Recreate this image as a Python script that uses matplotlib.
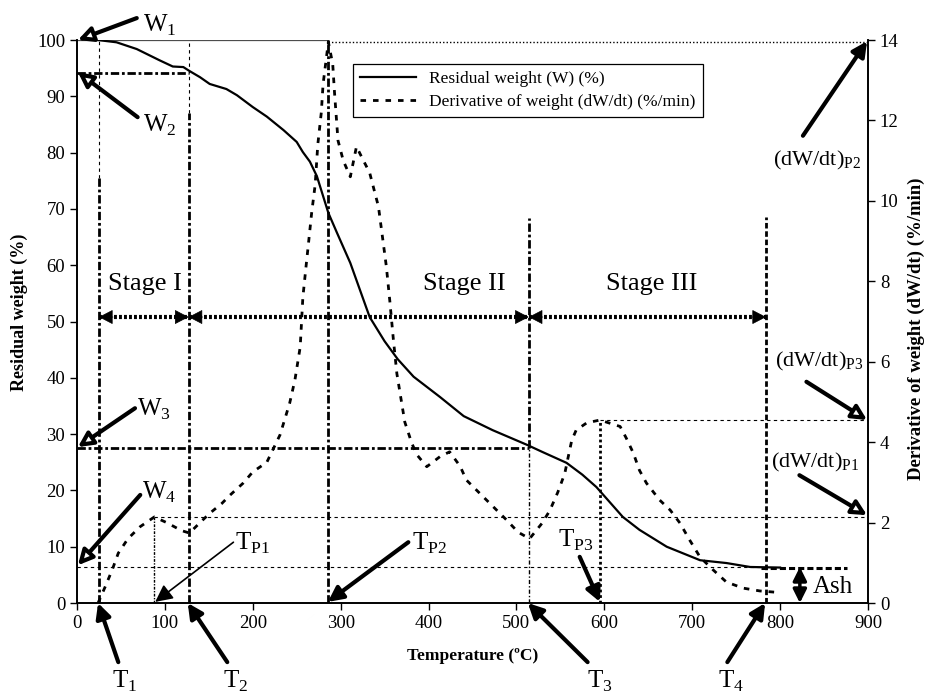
import matplotlib
matplotlib.use('Agg')
import matplotlib.pyplot as plt

plt.rcParams['font.family'] = 'Liberation Serif'
plt.rcParams['mathtext.fontset'] = 'custom'
plt.rcParams['mathtext.rm'] = 'Liberation Serif'

# Residual weight curve (temperature in C, weight in %)
temp_w = [24, 45, 68, 94, 109, 121, 128, 140, 151, 170, 182, 200, 216, 235, 250, 257,
          265, 273, 286, 296, 311, 322, 333, 350, 365, 383, 413, 440, 473, 512, 530,
          557, 575, 591, 621, 640, 671, 709, 739, 766, 800]
weight = [100, 99.6, 98.4, 96.4, 95.3, 95.2, 94.5, 93.4, 92.2, 91.3, 90.2, 88.1, 86.4,
          84, 81.9, 80.1, 78.4, 75.8, 69.3, 65.7, 60.4, 55.6, 50.8, 46.5, 43.3, 40.2,
          36.6, 33.2, 30.7, 28.1, 26.8, 24.9, 22.8, 20.6, 15.3, 13, 10, 7.6, 7.1, 6.4, 6.3]

# Derivative of weight curve (%/min)
temp_d = [24, 32, 40, 47, 58, 72, 88, 102, 119, 128, 140, 151, 165, 174, 189, 200, 216,
          231, 242, 248, 254, 257, 261, 263, 267, 271, 274, 278, 280, 284, 286, 291, 293,
          297, 303, 311, 318, 326, 333, 343, 347, 352, 356, 360, 364, 367, 373, 381, 387,
          398, 413, 424, 436, 443, 466, 489, 502, 515, 529, 538, 547, 555, 559, 563, 568,
          580, 595, 618, 625, 633, 640, 648, 663, 675, 686, 697, 709, 724, 739, 758, 777, 794]
deriv = [0, 0.4, 0.82, 1.24, 1.6, 1.9, 2.14, 2.0, 1.8, 1.74, 2.0, 2.23, 2.48, 2.68, 2.98,
         3.26, 3.5, 4.18, 4.97, 5.55, 6.37, 7.6, 8.45, 8.86, 9.7, 10.4, 11.4, 12.2, 12.9,
         13.6, 13.95, 13.4, 12.7, 11.5, 11.0, 10.6, 11.35, 11.0, 10.7, 9.86, 9.2, 8.37,
         7.5, 6.55, 5.7, 5.3, 4.5, 3.97, 3.68, 3.39, 3.64, 3.76, 3.4, 3.06, 2.56, 2.06,
         1.76, 1.6, 1.98, 2.3, 2.75, 3.22, 3.64, 4.05, 4.3, 4.48, 4.55, 4.39, 4.1, 3.73,
         3.3, 2.98, 2.56, 2.31, 1.99, 1.57, 1.14, 0.82, 0.52, 0.37, 0.3, 0.27]

# characteristic points
T1, T2, T3, T4 = 25, 127, 514, 784
TP1, TP2, TP3 = 88, 286, 595
W1, W2, W3, W4 = 100, 94.1, 27.5, 6.4
DP1, DP2, DP3 = 2.14, 13.95, 4.55
stage_y = 50.8

thick_dd = (0, (3, 1, 1, 1))
thin_dash = (0, (3, 3))

fig = plt.figure(figsize=(9.32, 6.94), dpi=100)
ax = fig.add_axes([0.0826, 0.1311, 0.8487, 0.8112])
ax2 = ax.twinx()

ax.set_xlim(0, 900)
ax.set_ylim(0, 100)
ax2.set_ylim(0, 14)
ax.set_xticks(range(0, 901, 100))
ax.set_yticks(range(0, 101, 10))
ax2.set_yticks(range(0, 15, 2))
for a in (ax, ax2):
    a.tick_params(direction='out', length=5, labelsize=13.5, width=1)
    a.spines['top'].set_visible(False)
    for s in a.spines.values():
        s.set_linewidth(1.2)

ax.set_xlabel('Temperature (ºC)', fontsize=12.5, fontweight='bold')
ax.set_ylabel('Residual weight (%)', fontsize=13, fontweight='bold')
ax2.set_ylabel('Derivative of weight (dW/dt) (%/min)', fontsize=13.5, fontweight='bold')
ax.xaxis.set_label_coords(0.5, -0.08)
ax.yaxis.set_label_coords(-0.062, 0.517)
ax2.yaxis.set_label_coords(1.05, 0.488)

# reference lines
ax.plot([0, TP2], [W1, W1], color='0.3', lw=0.9)
ax2.plot([TP2, 900], [DP2, DP2], color='k', lw=1, ls=(0, (1, 1.5)))
ax.plot([T1, T1], [75.5, 100], color='k', lw=0.8, ls=thin_dash)
ax.plot([T1, T1], [0, 75.5], color='k', lw=2, ls=thick_dd)
ax.plot([T2, T2], [87, 100], color='k', lw=0.8, ls=thin_dash)
ax.plot([T2, T2], [0, 87], color='k', lw=2, ls=thick_dd)
ax2.plot([TP1, TP1], [0, DP1], color='k', lw=1, ls=(0, (2, 1, 1, 1)))
ax.plot([TP2, TP2], [0, 100], color='k', lw=2, ls=thick_dd)
ax.plot([T3, T3], [W3, 68.4], color='k', lw=2, ls=thick_dd)
ax.plot([T3, T3], [0, W3], color='k', lw=1, ls=(0, (3, 1.5, 1, 1.5)))
ax2.plot([TP3, TP3], [0, DP3], color='k', lw=2, ls=(0, (1, 1)))
ax.plot([T4, T4], [0, 68.6], color='k', lw=2, ls=(0, (2, 1)))
ax.plot([0, T2], [W2, W2], color='k', lw=2, ls=thick_dd)
ax.plot([0, T3], [W3, W3], color='k', lw=2, ls=thick_dd)
ax.plot([0, T4], [W4, W4], color='k', lw=0.8, ls=thin_dash)
ax.plot([778, 876], [6.2, 6.2], color='k', lw=2.2, ls=(0, (2, 1)))
ax2.plot([TP1, 900], [DP1, DP1], color='k', lw=0.8, ls=thin_dash)
ax2.plot([TP3, 900], [DP3, DP3], color='k', lw=0.8, ls=thin_dash)

# data curves
l1, = ax.plot(temp_w, weight, color='k', lw=1.6, label='Residual weight (W) (%)')
l2, = ax2.plot(temp_d, deriv, color='k', lw=2, ls=(0, (2, 2.5)),
               label='Derivative of weight (dW/dt) (%/min)')

leg = ax2.legend(handles=[l1, l2], loc='upper left', bbox_to_anchor=(0.349, 0.957),
                 fontsize=12.5, frameon=True, fancybox=False, edgecolor='k',
                 framealpha=1, borderaxespad=0, handlelength=3.2, borderpad=0.4,
                 labelspacing=0.4)
leg.get_frame().set_linewidth(0.9)

# stage arrows: dotted shafts with solid heads
for a_, b_ in [(T1, T2), (T2, T3), (T3, T4)]:
    ax.plot([a_, b_], [stage_y, stage_y], color='k', lw=3, ls=(0, (0.7, 0.5)))
    for tip, tail in [(a_, a_ + 16), (b_, b_ - 16)]:
        ax.annotate('', xy=(tip, stage_y), xytext=(tail, stage_y),
                    arrowprops=dict(arrowstyle='-|>,head_length=0.5,head_width=0.26',
                                    color='k', lw=0.5, mutation_scale=18,
                                    shrinkA=0, shrinkB=0))
ax.text(77, 55.6, 'Stage I', fontsize=19, ha='center')
ax.text(441, 55.6, 'Stage II', fontsize=19, ha='center')
ax.text(654, 55.6, 'Stage III', fontsize=19, ha='center')


def arrow(tip, tail, open_head=False, lw=3, ms=22):
    ax.annotate('', xy=tip, xytext=tail, annotation_clip=False,
                arrowprops=dict(arrowstyle='-|>', lw=lw, ec='k',
                                fc='white' if open_head else 'k',
                                mutation_scale=ms, shrinkA=0, shrinkB=0))


arrow((1, 100), (68, 103.9), open_head=True)
arrow((1, 94.3), (69, 86.3), open_head=True)
arrow((1, 27.7), (66, 34.6), open_head=True)
arrow((1, 6.7), (72, 19.2), open_head=True)
arrow((24, 0), (47, -10.5))
arrow((126, 0), (171, -10.5))
arrow((89, 0.2), (178, 10.8), lw=1.2, ms=26)
arrow((285.5, 0.2), (377, 10.8))
arrow((513, 0), (581, -10.5))
arrow((783, 0), (740, -10.5))
arrow((595, 0.2), (572, 8.2))
arrow((899, 99.8), (826, 83))
arrow((899, 32.5), (830, 39.3), open_head=True)
arrow((899, 15.6), (822, 22.7), open_head=True)
ax.annotate('', xy=(822.5, 0), xytext=(822.5, W4), annotation_clip=False,
            arrowprops=dict(arrowstyle='<|-|>', lw=2.5, color='k',
                            mutation_scale=20, shrinkA=0, shrinkB=0))

big = 18
ax.text(75, 101.4, r'W$_\mathrm{1}$', fontsize=big)
ax.text(75, 83.7, r'W$_\mathrm{2}$', fontsize=big)
ax.text(68, 33.2, r'W$_\mathrm{3}$', fontsize=big)
ax.text(74, 18.5, r'W$_\mathrm{4}$', fontsize=big)
ax.text(40, -15.1, r'T$_\mathrm{1}$', fontsize=big)
ax.text(166, -15.1, r'T$_\mathrm{2}$', fontsize=big)
ax.text(580, -15.1, r'T$_\mathrm{3}$', fontsize=big)
ax.text(729, -15.1, r'T$_\mathrm{4}$', fontsize=big)
ax.text(180, 9.4, r'T$_\mathrm{P1}$', fontsize=big)
ax.text(381, 9.4, r'T$_\mathrm{P2}$', fontsize=big)
ax.text(547, 10, r'T$_\mathrm{P3}$', fontsize=big)
ax.text(837, 1.8, 'Ash', fontsize=big)
ax.text(792, 77.8, r'(dW/dt)$_\mathrm{P2}$', fontsize=16)
ax.text(794, 42, r'(dW/dt)$_\mathrm{P3}$', fontsize=16)
ax.text(789.5, 24, r'(dW/dt)$_\mathrm{P1}$', fontsize=16)

fig.savefig('out.png', dpi=100)
